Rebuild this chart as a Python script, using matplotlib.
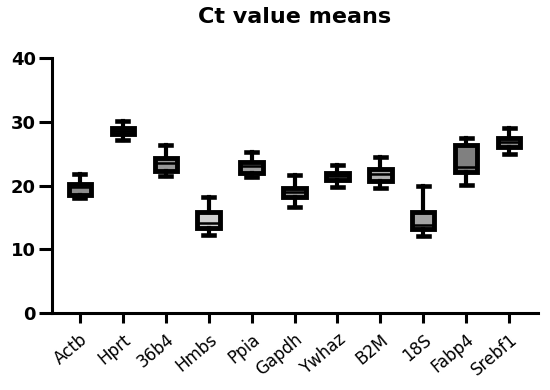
import matplotlib
matplotlib.use("Agg")
import matplotlib.pyplot as plt

genes = ["Actb", "Hprt", "36b4", "Hmbs", "Ppia", "Gapdh", "Ywhaz", "B2M", "18S", "Fabp4", "Srebf1"]
whislo = [18.0, 27.1, 21.5, 12.25, 21.3, 16.7, 19.8, 19.7, 12.1, 20.1, 24.9]
q1     = [18.55, 28.1, 22.3, 13.4, 22.0, 18.25, 20.95, 20.75, 13.2, 22.2, 26.1]
med    = [19.8, 28.55, 23.5, 14.2, 23.1, 19.05, 21.55, 21.9, 13.9, 22.85, 26.8]
q3     = [20.3, 29.0, 24.3, 15.8, 23.65, 19.7, 22.0, 22.6, 15.8, 26.45, 27.5]
whishi = [21.9, 30.2, 26.35, 18.25, 25.3, 21.65, 23.2, 24.5, 20.0, 27.4, 29.0]
yticks = [0, 10, 20, 30, 40]

fills = ["#8c8c8c", "#8c8c8c", "#999999", "#cfcfcf", "#a0a0a0", "#999999",
         "#8c8c8c", "#b0b0b0", "#a3a3a3", "#808080", "#8c8c8c"]

plt.rcParams['font.family'] = ['DejaVu Sans']

fig = plt.figure(figsize=(5.5, 3.9), dpi=100)
ax = fig.add_axes([0.0945, 0.197, 0.8835, 0.654])

stats = []
for i, g in enumerate(genes):
    stats.append(dict(label=g, whislo=whislo[i], q1=q1[i], med=med[i], q3=q3[i], whishi=whishi[i], fliers=[]))

pos = list(range(len(genes)))
bp = ax.bxp(stats, positions=pos, widths=0.52, patch_artist=True, showfliers=False,
            capwidths=0.26,
            boxprops=dict(linewidth=3.5, edgecolor="black"),
            whiskerprops=dict(linewidth=3.0, color="black"),
            capprops=dict(linewidth=3.3, color="black"),
            medianprops=dict(linewidth=1.8, color="black"))
for patch, c in zip(bp['boxes'], fills):
    patch.set_facecolor(c)

ax.set_xlim(-0.65, 10.67)
ax.set_ylim(0, 40)
ax.set_yticks(yticks)
ax.set_yticklabels([str(v) for v in yticks], fontsize=13, fontweight='bold')
ax.set_xticks(pos)
ax.set_xticklabels(genes, rotation=40, ha='right', rotation_mode='anchor', fontsize=12)

for s in ['top', 'right']:
    ax.spines[s].set_visible(False)
for s in ['left', 'bottom']:
    ax.spines[s].set_linewidth(2.2)
ax.tick_params(axis='both', width=2.2, direction='out')
ax.tick_params(axis='x', length=7.5, pad=5)
ax.tick_params(axis='y', length=9.5, pad=2)

fig.text(0.535, 0.957, "Ct value means", ha='center', va='center', fontsize=16, fontweight='bold')

fig.savefig("out.png", dpi=100)
